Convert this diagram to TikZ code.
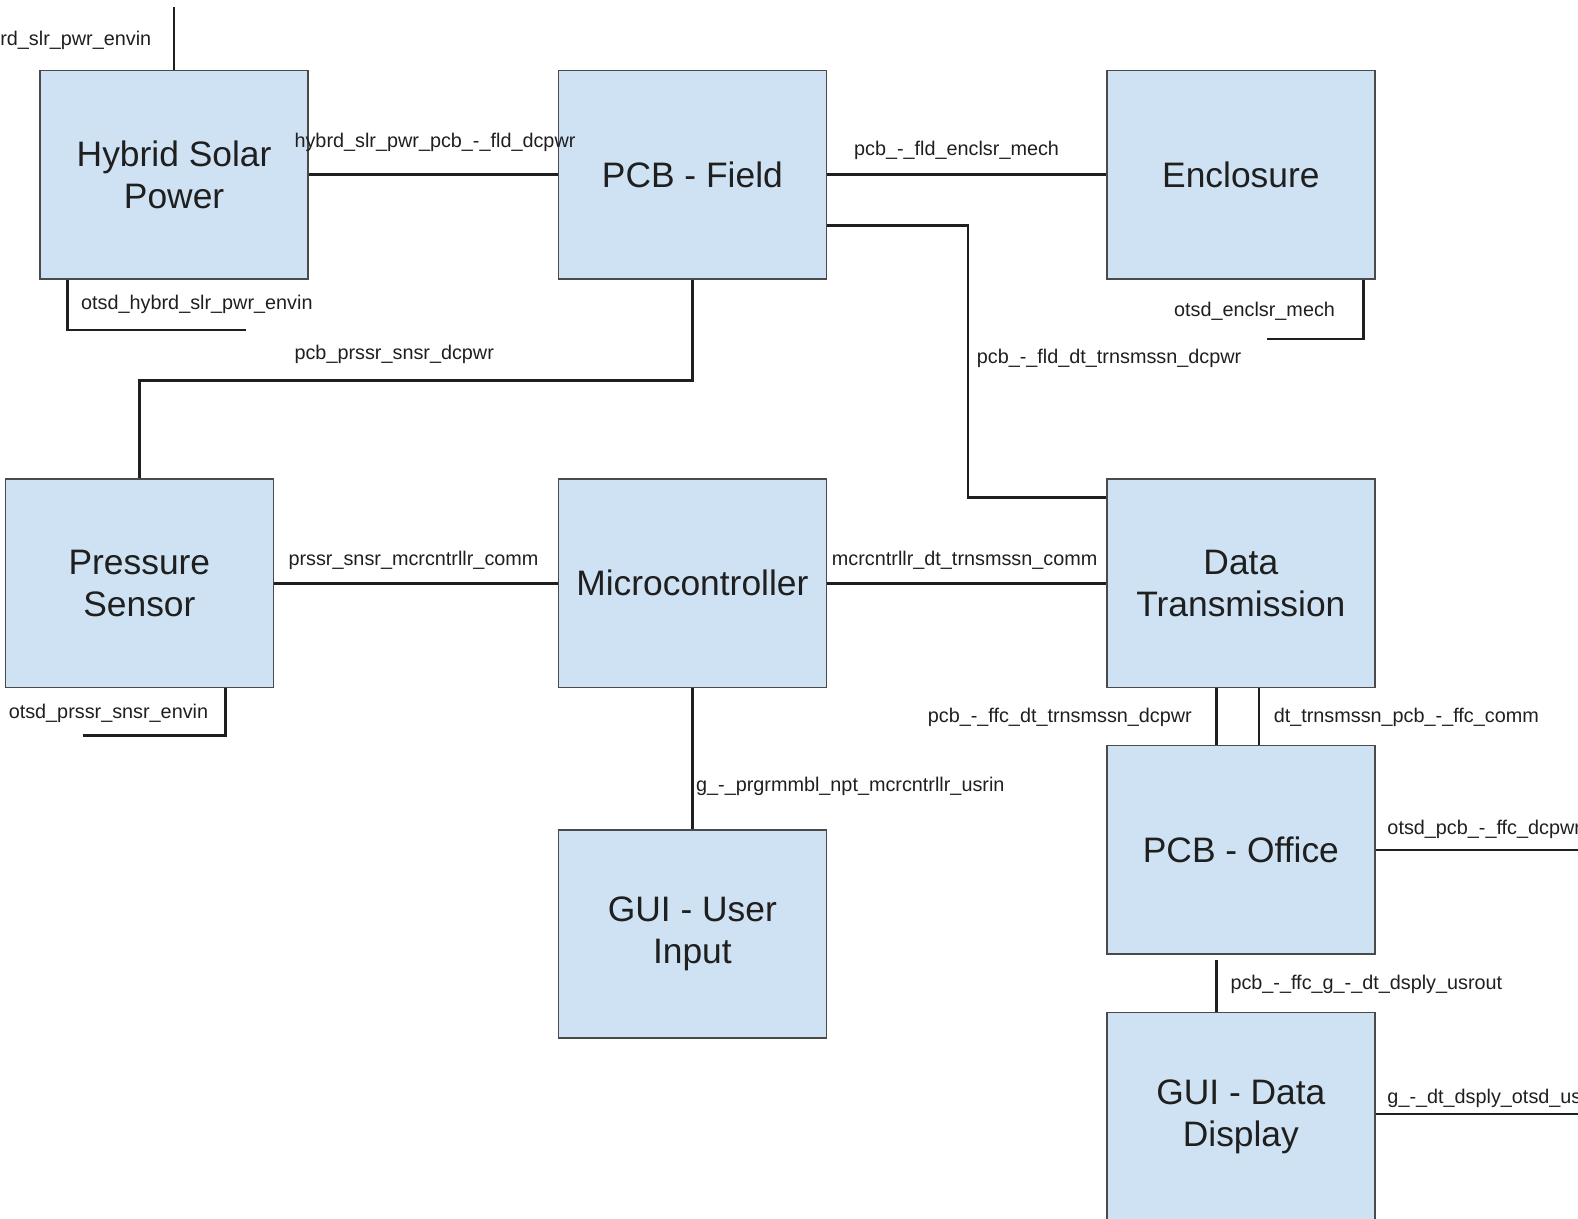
\documentclass[tikz,border=0pt]{standalone}
\usepackage{fontspec}
\setmainfont{Liberation Sans}
\usepackage{tikz}
\usetikzlibrary{calc}
\definecolor{box-blue}{HTML}{CFE2F3}
\definecolor{box-edge}{HTML}{4A4A4A}
\definecolor{ink}{HTML}{1F1F1F}
\newcommand*\sigfont{\fontsize{5.6}{6.7}\selectfont\color{ink}}
\newcommand*\blkfont{\fontsize{10}{11.9}\selectfont\color{ink}}

\begin{document}
\begin{tikzpicture}[x=0.01cm,y={(0,-0.01cm)},
		block/.style={draw=box-edge,line width=0.45pt,fill=box-blue,minimum width=2.66cm,minimum height=2.07cm,align=center,font=\blkfont},
		sig/.style={inner sep=0pt,anchor=west,font=\sigfont},
		wire/.style={line width=0.75pt,ink}]
		\clip (0,0) rectangle (1568,1211);
		\node[block] (hsp) at (173,173.5) {Hybrid Solar\\Power};
		\node[block] (pcbf) at (688,173.5) {PCB - Field};
		\node[block] (encl) at (1233,173.5) {Enclosure};
		\node[block] (prs) at (138.5,579.5) {Pressure\\Sensor};
		\node[block] (mcu) at (688,579.5) {Microcontroller};
		\node[block] (dtx) at (1233,579.5) {Data\\Transmission};
		\node[block] (pcbo) at (1233,844.5) {PCB - Office};
		\node[block] (guiu) at (688,928) {GUI - User\\Input};
		\node[block] (guid) at (1233,1109.5) {GUI - Data\\Display};

		\coordinate (hspin) at (173,7);
		\coordinate (hspout) at (244,328);
		\coordinate (enclout) at (1259,337);
		\coordinate (prsout) at (82,731);
		\coordinate (pcboout) at (1568,844.5);
		\coordinate (guidout) at (1568,1107);

		\draw[wire] (hsp.north) -- (hspin);
		\draw[wire] (hsp.east) -- (pcbf.west);
		\draw[wire] ($(hsp.south west)+(28,0)$) |- (hspout);
		\draw[wire] (pcbf.south) -- ++(0,100) -| (prs.north);
		\draw[wire] (pcbf.east) -- (encl.west);
		\draw[wire] ($(pcbf.east)+(0,50.5)$) -- ++(140,0) |- ($(dtx.north west)+(0,19)$);
		\draw[wire] ($(encl.south east)+(-12,0)$) |- (enclout);
		\draw[wire] (prs.east) -- (mcu.west);
		\draw[wire] (mcu.east) -- (dtx.west);
		\draw[wire] ($(prs.south east)+(-48,0)$) |- (prsout);
		\draw[wire] (mcu.south) -- (guiu.north);
		\draw[wire] ($(dtx.south)+(-24,0)$) -- ($(pcbo.north)+(-24,0)$);
		\draw[wire] ($(dtx.south)+(18,0)$) -- ($(pcbo.north)+(18,0)$);
		\draw[wire] (pcbo.east) -- (pcboout);
		\draw[wire] ($(pcbo.south)+(-24,5)$) -- ($(guid.north)+(-24,0)$);
		\draw[wire] ($(guid.east)+(0,-2.5)$) -- (guidout);

		\node[sig,anchor=east] (s-hspin) at (151,40) {rd\_slr\_pwr\_envin};
		\node[sig] (s-hsp-pcbf) at (292,141) {hybrd\_slr\_pwr\_pcb\_-\_fld\_dcpwr};
		\node[sig] (s-hspout) at (80,302) {otsd\_hybrd\_slr\_pwr\_envin};
		\node[sig] (s-pcbf-prs) at (292,352) {pcb\_prssr\_snsr\_dcpwr};
		\node[sig] (s-pcbf-encl) at (848,149) {pcb\_-\_fld\_enclsr\_mech};
		\node[sig] (s-pcbf-dtx) at (970,356) {pcb\_-\_fld\_dt\_trnsmssn\_dcpwr};
		\node[sig] (s-enclout) at (1166,309) {otsd\_enclsr\_mech};
		\node[sig] (s-prs-mcu) at (286,557) {prssr\_snsr\_mcrcntrllr\_comm};
		\node[sig] (s-mcu-dtx) at (826,557) {mcrcntrllr\_dt\_trnsmssn\_comm};
		\node[sig] (s-prsout) at (8,709) {otsd\_prssr\_snsr\_envin};
		\node[sig] (s-guiu-mcu) at (691,781) {g\_-\_prgrmmbl\_npt\_mcrcntrllr\_usrin};
		\node[sig,anchor=east] (s-pcbo-dtx) at (1185,713) {pcb\_-\_ffc\_dt\_trnsmssn\_dcpwr};
		\node[sig] (s-dtx-pcbo) at (1265,713) {dt\_trnsmssn\_pcb\_-\_ffc\_comm};
		\node[sig] (s-pcboout) at (1378,824) {otsd\_pcb\_-\_ffc\_dcpwr};
		\node[sig] (s-pcbo-guid) at (1222,978) {pcb\_-\_ffc\_g\_-\_dt\_dsply\_usrout};
		\node[sig] (s-guidout) at (1378,1091) {g\_-\_dt\_dsply\_otsd\_us};
\end{tikzpicture}
\end{document}
